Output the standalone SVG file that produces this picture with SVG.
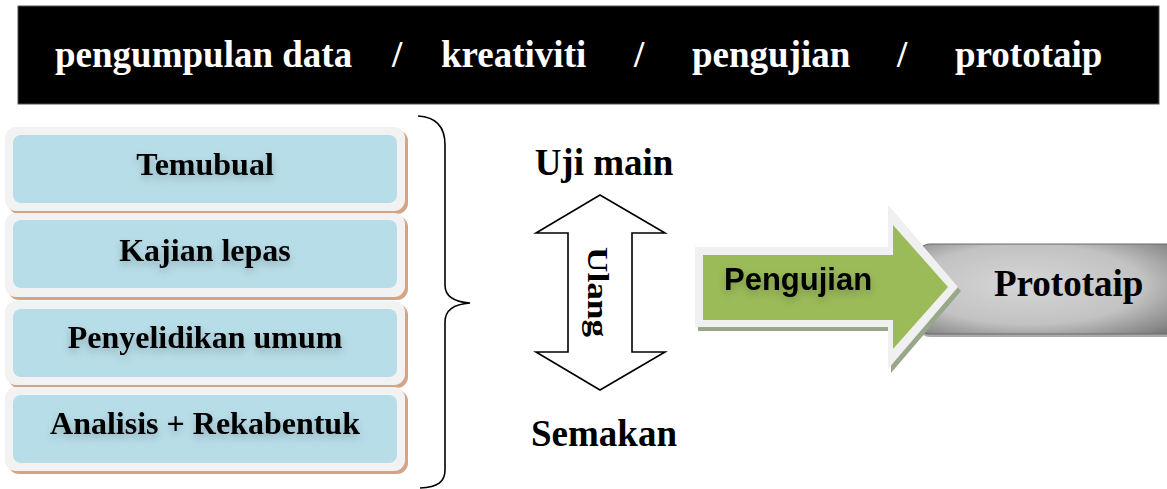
<svg xmlns="http://www.w3.org/2000/svg" width="1167" height="489" viewBox="0 0 1167 489">
<defs>
<style>
.serif{font-family:"Liberation Serif","Times New Roman",serif;font-weight:bold;}
.hdr{fill:#fff;font-size:37px;}
.box-t{font-size:32px;fill:#000;text-anchor:middle;}
.lbl{font-size:37px;fill:#000;text-anchor:middle;}
.outer{fill:#f2f2f2;}
.shadow{fill:#d2a587;}
.inner{fill:#b7dde8;}
</style>
<filter id="glow" x="-20%" y="-50%" width="140%" height="200%">
<feGaussianBlur in="SourceAlpha" stdDeviation="4"/>
<feOffset dx="0" dy="4" result="b"/>
<feComponentTransfer><feFuncA type="linear" slope="0.22"/></feComponentTransfer>
<feMerge><feMergeNode/><feMergeNode in="SourceGraphic"/></feMerge>
</filter>
<radialGradient id="gray" cx="0.45" cy="0.45" r="0.8" fx="0.4" fy="0.45">
<stop offset="0" stop-color="#d6d6d6"/>
<stop offset="0.55" stop-color="#c2c2c2"/>
<stop offset="1" stop-color="#6a6a6a"/>
</radialGradient>
</defs>
<rect width="1167" height="489" fill="#fff"/>

<g id="header">
<rect x="18" y="6" width="1141" height="98" fill="#000" stroke="#555" stroke-width="1"/>
<text class="serif hdr" x="55" y="67">pengumpulan data</text>
<text class="serif hdr" x="392" y="67">/</text>
<text class="serif hdr" x="441" y="67">kreativiti</text>
<text class="serif hdr" x="634" y="67">/</text>
<text class="serif hdr" x="692" y="67">pengujian</text>
<text class="serif hdr" x="897" y="67">/</text>
<text class="serif hdr" x="955" y="67">prototaip</text>
</g>

<g id="box-temubual">
<rect class="shadow" x="8" y="130" width="400" height="84" rx="11"/>
<rect class="outer" x="5" y="127" width="400" height="84" rx="11"/>
<rect class="inner" x="13" y="135" width="384" height="68" rx="8"/>
<text class="serif box-t" x="205" y="175" filter="url(#glow)">Temubual</text>
</g>
<g id="box-kajian">
<rect class="shadow" x="8" y="216" width="400" height="84" rx="11"/>
<rect class="outer" x="5" y="213" width="400" height="84" rx="11"/>
<rect class="inner" x="13" y="220" width="384" height="68" rx="8"/>
<text class="serif box-t" x="205" y="261" filter="url(#glow)">Kajian lepas</text>
</g>
<g id="box-penyelidikan">
<rect class="shadow" x="8" y="304" width="400" height="84" rx="11"/>
<rect class="outer" x="5" y="301" width="400" height="84" rx="11"/>
<rect class="inner" x="13" y="309" width="384" height="68" rx="8"/>
<text class="serif box-t" x="205" y="348" filter="url(#glow)">Penyelidikan umum</text>
</g>
<g id="box-analisis">
<rect class="shadow" x="8" y="390" width="400" height="84" rx="11"/>
<rect class="outer" x="5" y="387" width="400" height="84" rx="11"/>
<rect class="inner" x="13" y="395" width="384" height="68" rx="8"/>
<text class="serif box-t" x="205" y="434" filter="url(#glow)">Analisis + Rekabentuk</text>
</g>

<g id="connectors">
<path d="M418,116 C438,117 445,128 445,145 L445,285 C445,297 455,302 470,303 C455,304 445,310 445,322 L445,470 C445,482 438,487 420,488" fill="none" stroke="#000" stroke-width="1.6"/>
<polygon points="600,195 665,233 632,233 632,352 665,352 600,390 536,352 568,352 568,233 536,233" fill="#fff" stroke="#000" stroke-width="1.6" stroke-linejoin="miter"/>
</g>

<g id="label-ulang">
<text class="serif" font-size="29" transform="translate(588,247) rotate(90)" x="0" y="0" textLength="90" lengthAdjust="spacingAndGlyphs">Ulang</text>
</g>
<g id="label-ujimain">
<text class="serif lbl" x="604" y="175">Uji main</text>
</g>
<g id="label-semakan">
<text class="serif lbl" x="604" y="446">Semakan</text>
</g>

<g id="prototaip">
<rect x="918" y="247" width="260" height="90" rx="12" fill="#555" opacity="0.5"/>
<rect x="918" y="244" width="260" height="90" rx="12" fill="url(#gray)" stroke="#6a6a6a" stroke-width="1.2"/>
<text class="serif" font-size="37" x="994" y="296" fill="#000">Prototaip</text>
</g>

<g id="pengujian">
<polygon points="698,251 891,251 891,209 961,291 891,373 891,331 698,331" fill="#98a68a"/>
<polygon points="695,247 888,247 888,205 958,287 888,369 888,327 695,327" fill="#f0f0f0"/>
<polygon points="703,255 893,255 893,225 948,287 893,349 893,320 703,320" fill="#9bbb59"/>
<text x="724" y="290" font-family="Liberation Sans, Arial, sans-serif" font-weight="bold" font-size="31" fill="#000" filter="url(#glow)">Pengujian</text>
</g>
</svg>
